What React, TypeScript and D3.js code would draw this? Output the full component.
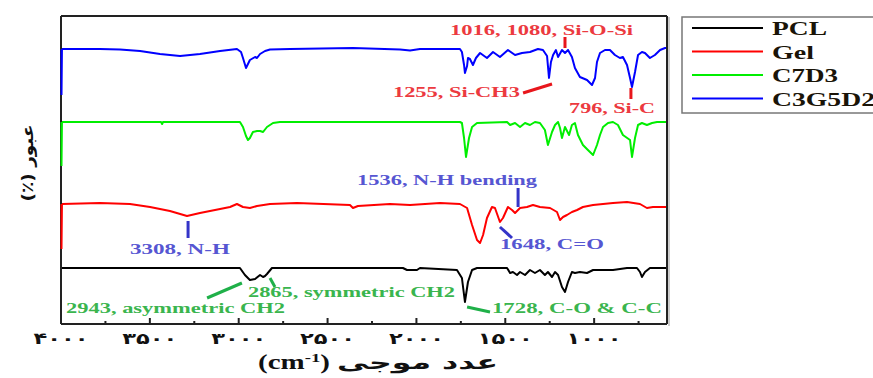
import React from "react";
import * as d3 from "d3";

// ---- data (wavenumber cm-1, transmittance in arbitrary stacked units) ----
const seriesNames = ["PCL", "Gel", "C7D3", "C3G5D2"];
const seriesColors = ["#000000", "#ff0000", "#00ee00", "#0000ff"];

const pclWn = [4000, 2993, 2965, 2937, 2908, 2880, 2863, 2852, 2841, 2813, 2076, 2053, 1997, 1980, 1772, 1744, 1727, 1710, 1687, 1659, 1490, 1473, 1457, 1434, 1417, 1389, 1361, 1333, 1305, 1277, 1260, 1237, 1220, 1203, 1181, 1164, 1147, 1125, 1108, 1080, 1040, 1006, 894, 815, 759, 742, 731, 714, 686, 590];
const pclT = [56, 56, 49, 44, 45, 49, 47, 48, 50, 56, 56, 54, 54, 56, 54, 46, 22, 42, 54, 56, 56, 51, 52, 49, 52, 49, 54, 51, 54, 49, 52, 47, 52, 49, 37, 32, 42, 52, 51, 52, 51, 54, 54, 56, 56, 52, 47, 52, 56, 56];

const gelWn = [4000, 3995, 3781, 3612, 3499, 3387, 3291, 3218, 3105, 3049, 3010, 2976, 2937, 2897, 2824, 2672, 2374, 2357, 2329, 2149, 2036, 1867, 1755, 1715, 1687, 1659, 1642, 1625, 1603, 1575, 1558, 1530, 1513, 1485, 1462, 1445, 1417, 1378, 1344, 1305, 1248, 1209, 1192, 1175, 1153, 1125, 1096, 1063, 1006, 950, 894, 815, 742, 703, 669, 590];
const gelT = [75, 120, 121, 120, 117, 113, 108, 111, 115, 117, 120, 117, 116, 118, 120, 121, 119, 116, 118, 120, 119, 121, 120, 116, 99, 84, 81, 89, 106, 117, 116, 102, 106, 117, 114, 111, 116, 117, 119, 117, 116, 112, 104, 107, 109, 112, 114, 117, 119, 120, 121, 122, 120, 116, 117, 117];

const c7d3Wn = [4000, 3995, 3781, 3499, 3437, 3431, 3426, 3105, 2993, 2976, 2959, 2948, 2937, 2920, 2897, 2880, 2863, 2841, 2807, 2768, 2092, 1755, 1744, 1732, 1721, 1704, 1687, 1659, 1490, 1473, 1445, 1417, 1389, 1361, 1333, 1305, 1277, 1260, 1237, 1220, 1203, 1192, 1181, 1164, 1141, 1125, 1108, 1091, 1063, 1035, 1006, 984, 967, 950, 922, 894, 866, 838, 798, 787, 770, 753, 731, 703, 674, 646, 590];
const c7d3T = [158, 202, 202, 202, 202, 200, 202, 202, 202, 197, 188, 184, 186, 192, 193, 193, 192, 197, 201, 202, 202, 202, 201, 186, 167, 186, 197, 201, 202, 199, 201, 197, 201, 199, 202, 201, 194, 179, 192, 199, 202, 196, 186, 197, 189, 199, 201, 189, 179, 174, 169, 179, 189, 197, 201, 202, 199, 189, 184, 167, 186, 199, 201, 199, 201, 202, 202];

const c3g5d2Wn = [4000, 3995, 3781, 3668, 3555, 3443, 3330, 3218, 3105, 3010, 2987, 2976, 2959, 2948, 2937, 2908, 2897, 2880, 2852, 2824, 2711, 2357, 2092, 2036, 1980, 1867, 1755, 1744, 1732, 1727, 1715, 1710, 1699, 1682, 1665, 1642, 1603, 1569, 1530, 1485, 1445, 1406, 1361, 1316, 1288, 1265, 1254, 1243, 1231, 1215, 1203, 1181, 1164, 1147, 1125, 1108, 1080, 1040, 1012, 995, 984, 967, 939, 911, 883, 855, 838, 815, 798, 787, 770, 753, 731, 714, 686, 658, 629, 601, 590];
const c3g5d2T = [229, 275, 275, 274.5, 273, 270, 268, 270, 273, 275, 272, 266, 256, 260, 264, 267, 266, 270, 273, 274.5, 275, 276, 274.5, 273.5, 275, 275, 275, 272, 259, 251, 258, 266, 265, 259, 266, 271, 266, 272, 267, 274, 269, 271, 272, 275, 274, 268, 246, 262, 269, 274, 267, 274, 271, 274, 267, 256, 247, 244, 239, 246, 262, 271, 274, 274, 269, 266, 267, 259, 246, 237, 252, 269, 272, 271, 266, 269, 274, 276, 276];

const majorTicks = [4000, 3500, 3000, 2500, 2000, 1500, 1000];
const majorTickLabels = ["۴۰۰۰", "۳۵۰۰", "۳۰۰۰", "۲۵۰۰", "۲۰۰۰", "۱۵۰۰", "۱۰۰۰"];
const minorTicks = [3750, 3250, 2750, 2250, 1750, 1250, 750];

// annotations: text start (wn, value), text width, line/tick (wn1,v1)->(wn2,v2)
const annTexts = ["1016, 1080, Si-O-Si", "1255, Si-CH3", "796, Si-C", "3308, N-H", "1536, N-H bending", "1648, C=O", "2943, asymmetric CH2", "2865, symmetric CH2", "1728, C-O & C-C"];
const annTextWn = [1811, 2132, 1141, 3612, 2334, 1530, 3972, 2948, 1575];
const annTextV = [289, 227, 211, 70, 139, 75, 11, 27, 11];
const annTextW = [183, 127, 86, 100, 180, 104, 219, 207, 170];
const annLine = [
  [1164, 287, 1164, 276],
  [1400, 231, 1237, 240],
  [793, 236, 793, 225],
  [3285, 103, 3285, 86],
  [1428, 136, 1428, 117],
  [1530, 97, 1462, 86],
  [3178, 26, 2982, 41],
  [2824, 46, 2796, 37],
  [1715, 17, 1586, 12],
];
const annKind = ["r", "r", "r", "b", "b", "b", "g", "g", "g"];
const annTextColor = { r: "#ec3a3f", b: "#5656d2", g: "#3ab54e" };
const annLineColor = { r: "#e8161c", b: "#3434c8", g: "#1fb049" };

const legendWidths = [55, 42, 66, 103];

export default function App() {
  const W = 873, H = 378;
  const left = 61, right = 667, top = 16, bottom = 324;
  const x = d3.scaleLinear().domain([4000, 590]).range([left, right]);
  const y = d3.scaleLinear().domain([0, 308]).range([bottom, top]);
  const line = d3.line<[number, number]>().x((d) => x(d[0])).y((d) => y(d[1]));

  const series = [
    [pclWn, pclT],
    [gelWn, gelT],
    [c7d3Wn, c7d3T],
    [c3g5d2Wn, c3g5d2T],
  ].map(([wn, t]) => wn.map((w, i) => [w, t[i]] as [number, number]));

  const serif = "'Liberation Serif', 'Times New Roman', serif";
  const arabic = "'DejaVu Sans', sans-serif";

  return (
    <svg width={W} height={H} style={{ position: "absolute", left: 0, top: 0, background: "#fff" }}>
      <rect x={0} y={0} width={W} height={H} fill="#fff" />
      {/* spectra */}
      {series.map((s, i) => (
        <path key={i} d={line(s) || ""} fill="none" stroke={seriesColors[i]} strokeWidth={2} strokeLinejoin="round" />
      ))}
      {/* frame */}
      <line x1={left} y1={top} x2={right} y2={top} stroke="#222" strokeWidth={2} />
      <line x1={right} y1={top} x2={right} y2={bottom} stroke="#222" strokeWidth={2} />
      <line x1={right + 2} y1={top + 1} x2={right + 2} y2={bottom + 2} stroke="#bbb" strokeWidth={1.5} />
      <line x1={left} y1={bottom} x2={right} y2={bottom} stroke="#222" strokeWidth={2} />
      <line x1={left} y1={top} x2={left} y2={bottom} stroke="#222" strokeWidth={2} />
      {/* re-draw the colored start segments over frame */}
      {series.slice(1).map((s, i) => (
        <line key={i} x1={x(s[0][0]) + 0.5} y1={y(s[0][1])} x2={x(s[0][0]) + 0.5} y2={y(s[1][1])} stroke={seriesColors[i + 1]} strokeWidth={2} />
      ))}
      {/* ticks */}
      {majorTicks.map((t, i) => (
        <g key={"M" + t}>
          <line x1={x(t)} x2={x(t)} y1={bottom} y2={bottom - 6} stroke="#222" strokeWidth={2} />
          <text x={x(t)} y={344} textAnchor="middle" fontFamily={arabic} fontWeight="bold" fontSize={16} fill="#111" textLength={55} lengthAdjust="spacingAndGlyphs">
            {majorTickLabels[i]}
          </text>
        </g>
      ))}
      {minorTicks.map((t) => (
        <line key={"m" + t} x1={x(t)} x2={x(t)} y1={bottom} y2={bottom - 3} stroke="#222" strokeWidth={2} />
      ))}
      {/* axis titles */}
      <g transform="translate(258,369) scale(1.45,1)">
        <text x={0} y={0} fontFamily={serif} fontWeight="bold" fontSize={20} fill="#111">
          (cm<tspan fontSize={13} dy={-7}>-1</tspan><tspan dy={7}>)</tspan>
        </text>
      </g>
      <text x={337} y={369} fontFamily={arabic} fontWeight="bold" fontSize={19} fill="#111" textLength={161} lengthAdjust="spacingAndGlyphs">
        عدد موجی
      </text>
      <text transform="translate(33,163) rotate(-90)" textAnchor="middle" fontFamily={arabic} fontWeight="bold" fontSize={16} fill="#111" textLength={77} lengthAdjust="spacingAndGlyphs">
        (٪) عبور
      </text>
      {/* annotations */}
      {annTexts.map((t, i) => {
        const k = annKind[i] as "r" | "b" | "g";
        const L = annLine[i];
        return (
          <g key={"a" + i}>
            <line x1={x(L[0])} y1={y(L[1])} x2={x(L[2])} y2={y(L[3])} stroke={annLineColor[k]} strokeWidth={3} />
            <text x={x(annTextWn[i])} y={y(annTextV[i])} fontFamily={serif} fontWeight="bold" fontSize={15.5} fill={annTextColor[k]} textLength={annTextW[i]} lengthAdjust="spacingAndGlyphs">
              {t}
            </text>
          </g>
        );
      })}
      {/* legend */}
      <rect x={682} y={17} width={200} height={96} fill="#fff" stroke="#777" strokeWidth={1.5} />
      {seriesNames.map((n, i) => {
        const ly = 28 + i * 23.5;
        return (
          <g key={n}>
            <line x1={692} x2={763} y1={ly} y2={ly} stroke={seriesColors[i]} strokeWidth={2} />
            <text x={772} y={ly + 7} fontFamily={serif} fontWeight="bold" fontSize={19} fill="#1a1408" textLength={legendWidths[i]} lengthAdjust="spacingAndGlyphs">
              {n}
            </text>
          </g>
        );
      })}
    </svg>
  );
}
